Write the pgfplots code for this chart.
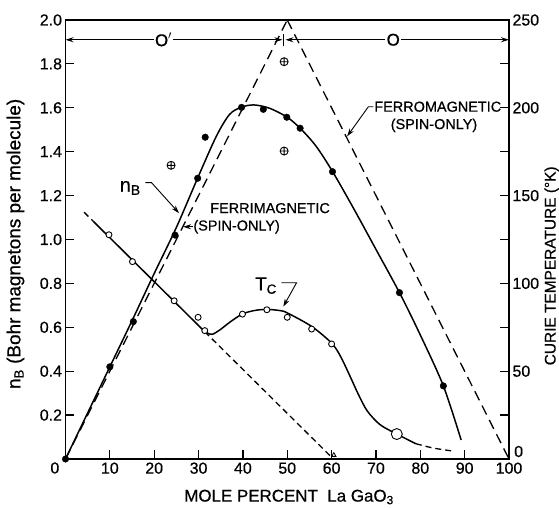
\documentclass[border=0pt]{standalone}
\usepackage{fontspec}
\setmainfont{Liberation Sans}[FakeBold=0.6]
\usepackage{pgfplots}
\pgfplotsset{compat=1.18}
\usetikzlibrary{arrows.meta}
\newcommand{\tickfont}{\fontsize{16}{18}\selectfont}
\newcommand{\annfont}{\fontsize{14.5}{17}\selectfont}
\begin{document}
\begin{tikzpicture}
\useasboundingbox (-65.5bp,-49bp) rectangle (493.5bp,459bp);
% ---------------- left axis: n_B ----------------
\begin{axis}[
  at={(0,0)}, anchor=south west,
  scale only axis, width=443.5bp, height=439bp,
  xmin=0, xmax=100, ymin=0, ymax=2,
  clip=false,
  xtick={10,20,30,40,50,60,70,80,90,100},
  ytick={0,0.2,0.4,0.6,0.8,1.0,1.2,1.4,1.6,1.8,2.0},
  yticklabels={,0.2,0.4,0.6,0.8,1.0,1.2,1.4,1.6,1.8,2.0},
  xtick pos=left, ytick pos=left,
  tick align=inside, major tick length=9bp,
  every tick/.style={black, line width=1.2bp},
  axis line style={line width=1.4bp},
  tick label style={font=\tickfont},
  /pgf/number format/assume math mode=true,
  xlabel={MOLE PERCENT\ \ La GaO\textsubscript{3}},
  xlabel style={font=\fontsize{17}{19}\selectfont, at={(axis description cs:0.504,-0.0866)}, anchor=center},
  ylabel={n\textsubscript{B} (Bohr magnetons per molecule)},
  ylabel style={font=\fontsize{19}{21}\selectfont, at={(axis description cs:-0.1127,0.49)}, anchor=center},
]
% spin-only lines
\addplot[black, line width=1.3bp, dash pattern=on 10bp off 6bp] coordinates {(0,0) (50,2.0)};
\addplot[black, line width=1.3bp, dash pattern=on 10bp off 6bp] coordinates {(50,2.0) (100,0)};
% n_B smooth curve
\addplot[black, line width=1.5bp, smooth, tension=0.5] coordinates {
(0,0) (10,0.42) (15,0.63) (20,0.845) (25,1.055) (29.8,1.28) (34,1.47) (37,1.57) (39.7,1.603)
(42.5,1.613) (46,1.598) (50,1.557) (53,1.505) (56.5,1.425) (60.2,1.31) (65,1.14) (70,0.955)
(75.3,0.758) (80,0.565) (85.2,0.333) (89.2,0.087)};
% n_B measured points
\addplot[only marks, mark=*, mark size=3.3bp, black] coordinates {
(0,0) (10,0.42) (15.3,0.626) (24.7,1.02) (29.8,1.279) (31.5,1.466) (39.7,1.602) (44.6,1.593)
(49.9,1.557) (52.9,1.507) (60.2,1.309) (75.3,0.758) (85.2,0.333)};
% crossed circles
\addplot[only marks, mark=oplus, mark size=4bp, black, mark options={line width=0.9bp}] coordinates {
(23.8,1.338) (49.3,1.81) (49.3,1.403)};
% O' and O arrows
\draw[{Stealth[length=8bp,width=5bp]}-{Stealth[length=8bp,width=5bp]}, line width=1bp] (axis cs:0,1.91) -- (axis cs:48.9,1.91);
\draw[{Stealth[length=8bp,width=5bp]}-{Stealth[length=8bp,width=5bp]}, line width=1bp] (axis cs:49.6,1.91) -- (axis cs:100,1.91);
\draw[line width=1bp] (axis cs:49.2,1.88) -- (axis cs:49.2,1.935);
\node[fill=white, inner sep=1.5bp, font=\fontsize{17}{19}\selectfont] at (axis cs:22.1,1.91) {O$'$};
\node[fill=white, inner sep=1.5bp, font=\fontsize{17}{19}\selectfont] at (axis cs:73.9,1.91) {O};
% n_B label
\node[font=\fontsize{20}{22}\selectfont] at (axis cs:14.6,1.235) {n\textsubscript{B}};
\draw[-{Stealth[length=8bp,width=5bp]}, line width=0.9bp] (axis cs:18.0,1.259) -- (axis cs:19.4,1.259) -- (axis cs:25.6,1.12);
% ferrimagnetic label
\node[anchor=west, font=\annfont, inner sep=0pt] at (axis cs:32.6,1.143) {FERRIMAGNETIC};
\node[anchor=west, font=\annfont, inner sep=0pt] at (axis cs:28.8,1.058) {(SPIN-ONLY)};
\draw[-{Stealth[length=8bp,width=5bp]}, line width=0.9bp] (axis cs:28.7,1.058) -- (axis cs:26.5,1.058);
% ferromagnetic label
\node[anchor=west, font=\annfont, inner sep=0pt] at (axis cs:69.6,1.605) {FERROMAGNETIC};
\node[anchor=west, font=\annfont, inner sep=0pt] at (axis cs:73.3,1.52) {(SPIN-ONLY)};
\draw[-{Stealth[length=8bp,width=5bp]}, line width=0.9bp] (axis cs:69.4,1.605) -- (axis cs:68.3,1.605) -- (axis cs:63.5,1.47);
% T_C label
\node[font=\fontsize{19}{21}\selectfont] at (axis cs:45.2,0.79) {T\textsubscript{C}};
\draw[-{Stealth[length=8bp,width=5bp]}, line width=0.9bp] (axis cs:48.7,0.803) -- (axis cs:52.1,0.803) -- (axis cs:49.1,0.694);
% left "0" and right "0"
\node[anchor=east, font=\tickfont, inner sep=0pt] at (axis cs:0,0) [xshift=-6bp, yshift=-9bp] {0};
\node[anchor=west, font=\tickfont, inner sep=0pt] at (axis cs:100,0) [xshift=5bp, yshift=7.5bp] {0};
\end{axis}
% ---------------- right axis: Curie temperature ----------------
\begin{axis}[
  at={(0,0)}, anchor=south west,
  scale only axis, width=443.5bp, height=439bp,
  xmin=0, xmax=100, ymin=0, ymax=250,
  clip=false,
  hide x axis,
  axis line style={draw=none},
  ytick={0,25,50,75,100,125,150,175,200,225,250},
  yticklabels={,,50,,100,,150,,200,,250},
  ytick pos=right, yticklabel pos=right,
  tick align=inside, major tick length=9bp,
  every tick/.style={black, line width=1.2bp},
  tick label style={font=\tickfont},
  /pgf/number format/assume math mode=true,
  ylabel={CURIE TEMPERATURE (°K)},
  ylabel style={font=\fontsize{15.5}{18}\selectfont, at={(axis description cs:1.096,0.44)}, anchor=center},
]
% linear T_C segment
\addplot[black, line width=1.3bp, dash pattern=on 6bp off 4bp] coordinates {(4.2,140.5) (6.3,135.25)};
\addplot[black, line width=1.5bp] coordinates {(6.3,135.25) (31.4,72.5)};
\addplot[black, line width=1.3bp, dash pattern=on 6bp off 4bp] coordinates {(31.4,72.5) (60.4,0)};
% T_C hump curve
\addplot[black, line width=1.5bp, smooth, tension=0.5] coordinates {
(31.4,72.5) (33,71) (34.8,73.5) (37.1,78) (39.9,82.6) (42.7,84.6) (45.4,85.2) (48.4,84.5)
(50,83.2) (55.5,75.5) (60,66) (62,58.5) (64,48) (66,37) (68,27.5) (70.9,19.6) (74.7,14.2) (79,8.7)};
\addplot[black, line width=1.3bp, dash pattern=on 6bp off 4bp, smooth] coordinates {(79,8.7) (83,6.2) (87.4,4.5)};
% T_C measured points
\addplot[only marks, mark=*, mark size=3bp, black, mark options={fill=white, line width=0.9bp}] coordinates {
(9.8,127.7) (15.1,112.4) (24.5,90.1) (29.9,80.7) (31.4,73.1) (39.9,82.5) (45.4,85) (50,80.7) (55.5,74) (60,65.5)};
\addplot[only marks, mark=*, mark size=5.5bp, black, mark options={fill=white, line width=0.9bp}] coordinates {(74.7,14.2)};
\addplot[only marks, mark=triangle, mark size=2.5bp, black, mark options={line width=0.8bp}] coordinates {(60.5,2.2)};
\end{axis}
\end{tikzpicture}
\end{document}
